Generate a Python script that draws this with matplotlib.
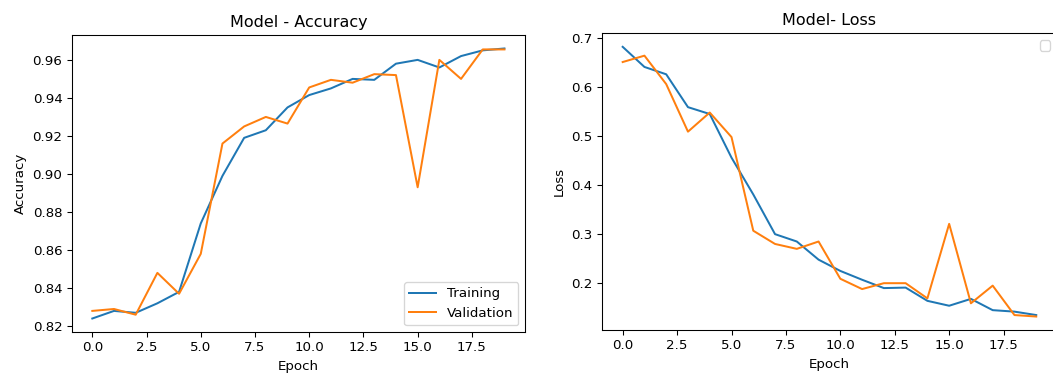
import matplotlib
matplotlib.use("Agg")
import matplotlib.pyplot as plt

epochs = list(range(20))

train_acc = [0.824, 0.828, 0.827, 0.832, 0.838, 0.874, 0.899, 0.919, 0.923, 0.935,
             0.9415, 0.945, 0.950, 0.9495, 0.958, 0.960, 0.956, 0.962, 0.965, 0.966]
val_acc = [0.828, 0.829, 0.826, 0.848, 0.837, 0.858, 0.916, 0.925, 0.930, 0.9265,
           0.9455, 0.9495, 0.948, 0.9525, 0.952, 0.893, 0.960, 0.950, 0.9655, 0.9655]

train_loss = [0.682, 0.641, 0.626, 0.559, 0.545, 0.456, 0.381, 0.300, 0.285, 0.248,
              0.225, 0.207, 0.190, 0.191, 0.164, 0.154, 0.168, 0.145, 0.142, 0.135]
val_loss = [0.651, 0.664, 0.606, 0.509, 0.548, 0.498, 0.307, 0.280, 0.270, 0.285,
            0.209, 0.188, 0.200, 0.200, 0.169, 0.321, 0.159, 0.195, 0.135, 0.132]

DPI = 96
fig = plt.figure(figsize=(1053 / DPI, 376 / DPI), dpi=DPI)

ax1 = fig.add_axes([0.0681, 0.117, 0.4305, 0.790])
ax1.plot(epochs, train_acc, label="Training")
ax1.plot(epochs, val_acc, label="Validation")
ax1.set_title("Model - Accuracy")
ax1.set_xlabel("Epoch")
ax1.set_ylabel("Accuracy")
ax1.legend(loc="lower right")

ax2 = fig.add_axes([0.5717, 0.1223, 0.432, 0.789])
ax2.plot(epochs, train_loss)
ax2.plot(epochs, val_loss)
ax2.set_title("Model- Loss")
ax2.set_xlabel("Epoch")
ax2.set_ylabel("Loss")
ax2.legend(loc="upper right")

fig.savefig("out.png", dpi=DPI)
